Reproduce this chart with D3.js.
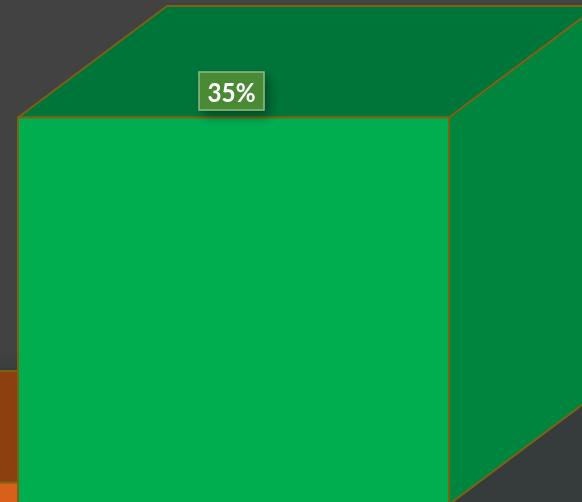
<!DOCTYPE html>
<html>
<head>
<meta charset="utf-8">
<script src="https://cdn.jsdelivr.net/npm/d3@7"></script>
<style>
    html, body { margin: 0; padding: 0; background: #414141; overflow: hidden; }
    svg { display: block; }
</style>
</head>
<body>
<svg id="chart"></svg>
<script>
const categories = ["Previous", "Current"];
const values = [2, 35];
const valueLabels = ["", "35%"];
const frontColors = ["#d9601a", "#00ae50"];
const topColors = ["#8c3f0f", "#00753a"];
const sideColors = ["#a54d12", "#00853f"];

const width = 582;
const height = 502;
const depthX = 149;
const depthY = 111.5;
const edgeColor = "#7e6014";

const svg = d3.select("#chart").attr("width", width).attr("height", height);

const defs = svg.append("defs");
const bg = defs.append("linearGradient").attr("id", "bg")
    .attr("x1", 0).attr("y1", 0).attr("x2", 0).attr("y2", 1);
bg.append("stop").attr("offset", "0.7").attr("stop-color", "#424242");
bg.append("stop").attr("offset", "0.74").attr("stop-color", "#363d3c");
bg.append("stop").attr("offset", "1").attr("stop-color", "#363b3b");

const shadow = defs.append("filter").attr("id", "labelShadow")
    .attr("x", "-40%").attr("y", "-40%").attr("width", "200%").attr("height", "230%");
shadow.append("feDropShadow").attr("dx", 5).attr("dy", 6).attr("stdDeviation", 6)
    .attr("flood-color", "#000").attr("flood-opacity", 0.35);

svg.append("rect").attr("width", width).attr("height", height).attr("fill", "url(#bg)");

// chart is cropped: the first bar runs off the left edge
const x = d3.scaleBand().domain(categories).range([-413, 449]).padding(0);
const y = d3.scaleLinear().domain([0, 35]).range([504.5, 117.5]);

const bars = svg.selectAll("g.bar")
    .data(categories.map((c, i) => ({ name: c, value: values[i], i })))
    .enter().append("g").attr("class", "bar");

const poly = pts => pts.map(p => p.join(",")).join(" ");

function drawFace(sel, fill, pts) {
    sel.append("polygon")
        .attr("points", poly(pts))
        .attr("fill", fill)
        .attr("stroke", edgeColor)
        .attr("stroke-width", 2)
        .attr("stroke-linejoin", "round");
}

bars.each(function (d) {
    const g = d3.select(this);
    const x0 = x(d.name);
    const x1 = x0 + x.bandwidth();
    const yTop = y(d.value);
    const yBase = y(0);
    drawFace(g, topColors[d.i], [[x0, yTop], [x1, yTop], [x1 + depthX, yTop - depthY], [x0 + depthX, yTop - depthY]]);
    drawFace(g, sideColors[d.i], [[x1, yTop], [x1 + depthX, yTop - depthY], [x1 + depthX, yBase - depthY], [x1, yBase]]);
    drawFace(g, frontColors[d.i], [[x0, yTop], [x1, yTop], [x1, yBase], [x0, yBase]]);
});

// data label sits over the back of the top face
const labelW = 65;
const labelH = 38;
const labelX = x("Current") + x.bandwidth() / 2 - 2;
const labelY = y(35) - 26.5;

const label = svg.append("g").attr("filter", "url(#labelShadow)");
label.append("rect")
    .attr("x", labelX - labelW / 2).attr("y", labelY - labelH / 2)
    .attr("width", labelW).attr("height", labelH)
    .attr("fill", "#4b8a36")
    .attr("stroke", "#8dbb84")
    .attr("stroke-width", 1.5);
label.append("text")
    .attr("x", labelX).attr("y", labelY + 11)
    .attr("text-anchor", "middle")
    .attr("font-family", "Lato, sans-serif")
    .attr("font-weight", 700)
    .attr("font-size", 26)
    .attr("textLength", 48)
    .attr("lengthAdjust", "spacingAndGlyphs")
    .attr("fill", "#fff")
    .text(valueLabels[1]);
</script>
</body>
</html>
